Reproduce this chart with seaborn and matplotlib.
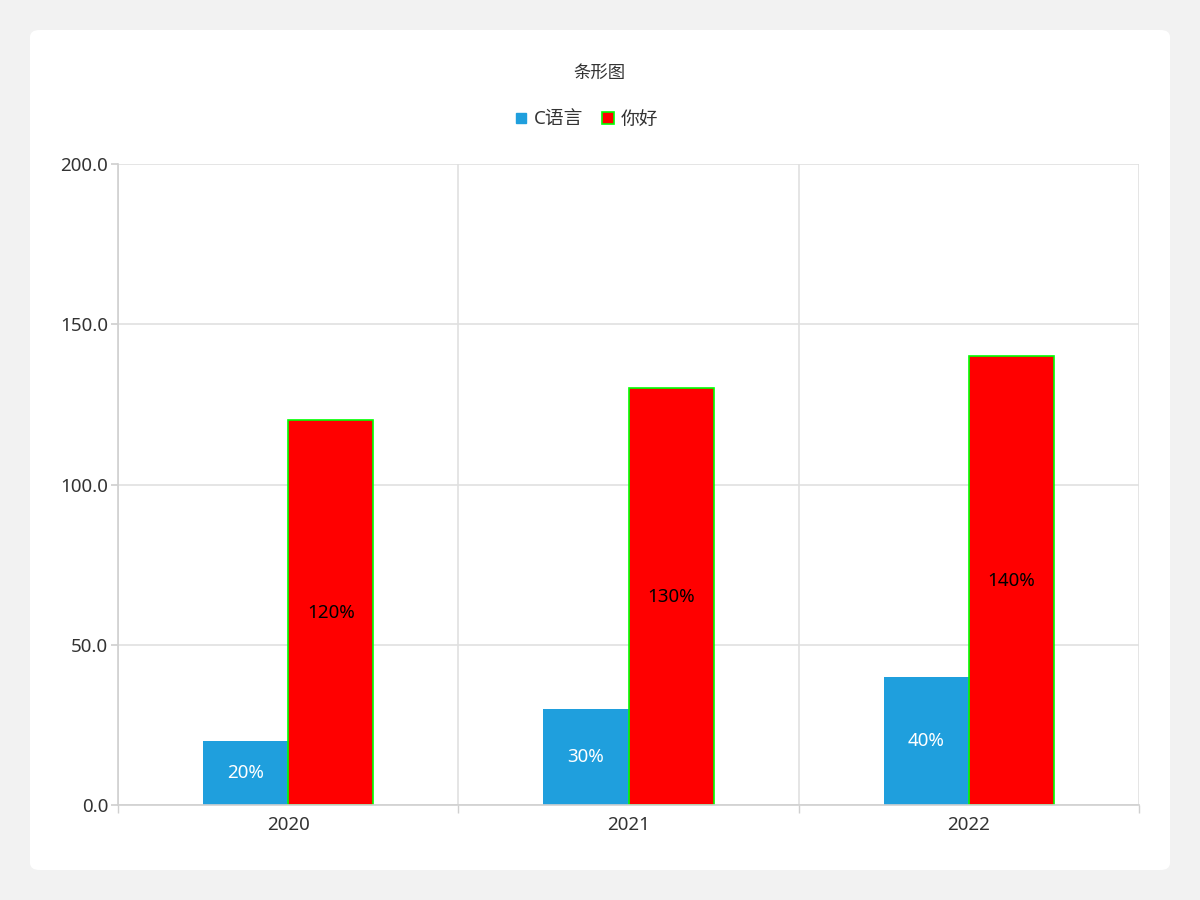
import numpy as np
import pandas as pd
import matplotlib
matplotlib.use("Agg")
import matplotlib.pyplot as plt
from matplotlib.patches import FancyBboxPatch
from matplotlib.lines import Line2D
import seaborn as sns

# datos del gráfico
anios = ["2020", "2021", "2022"]
series = ["C语言", "你好"]
valores_c = [20, 30, 40]
valores_hola = [120, 130, 140]
etiquetas_c = ["20%", "30%", "40%"]
etiquetas_hola = ["120%", "130%", "140%"]

df = pd.DataFrame({
    "anio": anios * 2,
    "serie": [series[0]] * 3 + [series[1]] * 3,
    "valor": valores_c + valores_hola,
})

sns.set_theme(style="white")
plt.rcParams["font.family"] = ["Noto Sans", "Noto Sans CJK SC", "DejaVu Sans"]

fig = plt.figure(figsize=(12, 9), dpi=100)
fig.patch.set_facecolor("#f2f2f2")
card = FancyBboxPatch((30 / 1200, 30 / 900), 1140 / 1200, 840 / 900,
                      boxstyle="round,pad=0,rounding_size=0.008",
                      transform=fig.transFigure, facecolor="white",
                      edgecolor="none", zorder=-10)
fig.patches.append(card)

ax = fig.add_axes([118 / 1200, 95 / 900, 1021 / 1200, 641 / 900])
ax.set_facecolor("white")

colores = {"C语言": "#1f9fdd", "你好": "#ff0000"}
sns.barplot(data=df, x="anio", y="valor", hue="serie", palette=colores,
            width=0.5, dodge=True, ax=ax, legend=False, saturation=1)

# borde verde para las barras rojas
for i, p in enumerate(ax.patches):
    if i >= 3:
        p.set_edgecolor("#00ff00")
        p.set_linewidth(1.2)
    else:
        p.set_edgecolor("none")

ax.bar_label(ax.containers[0], labels=etiquetas_c, label_type="center",
             color="white", fontsize=13.5)
ax.bar_label(ax.containers[1], labels=etiquetas_hola, label_type="center",
             color="black", fontsize=13.5)

ax.set_ylim(0, 200)
ax.set_xlim(-0.5, 2.5)
ax.set_yticks([0, 50, 100, 150, 200])
ax.set_yticklabels([f"{v:.1f}" for v in [0, 50, 100, 150, 200]])
ax.set_xticks([0, 1, 2])
ax.set_xticks([-0.5, 0.5, 1.5, 2.5], minor=True)
ax.set_xlabel("")
ax.set_ylabel("")

ax.grid(axis="y", color="#e0e0e0", linewidth=1.2)
ax.grid(axis="x", which="minor", color="#e0e0e0", linewidth=1.2)
ax.set_axisbelow(True)

for s in ax.spines.values():
    s.set_visible(False)
ax.spines["left"].set_visible(True)
ax.spines["bottom"].set_visible(True)
ax.spines["left"].set_color("#d0d0d0")
ax.spines["bottom"].set_color("#d0d0d0")
ax.spines["left"].set_linewidth(1.2)
ax.spines["bottom"].set_linewidth(1.2)

ax.tick_params(axis="y", which="major", length=5, color="#d0d0d0",
               labelsize=13.5, labelcolor="#333333", pad=2, left=True)
ax.tick_params(axis="x", which="major", length=0, labelsize=13.5,
               labelcolor="#333333", pad=8)
ax.tick_params(axis="x", which="minor", length=6, color="#d0d0d0",
               bottom=True)

fig.text(0.5, 1 - 73 / 900, "条形图", ha="center", va="center",
         fontsize=12.5, color="#333333")

handles = [
    Line2D([], [], marker="s", linestyle="none", markersize=7,
           markerfacecolor="#1f9fdd", markeredgecolor="#1f9fdd"),
    Line2D([], [], marker="s", linestyle="none", markersize=9,
           markerfacecolor="#ff0000", markeredgecolor="#00ff00",
           markeredgewidth=1.2),
]
fig.legend(handles, series, loc="center", bbox_to_anchor=(585 / 1200, 1 - 120 / 900),
           ncol=2, frameon=False, fontsize=13.5, handletextpad=0.2,
           columnspacing=0.8, handlelength=1.0, labelcolor="#333333")

fig.savefig("out.png", dpi=100, facecolor=fig.get_facecolor())
